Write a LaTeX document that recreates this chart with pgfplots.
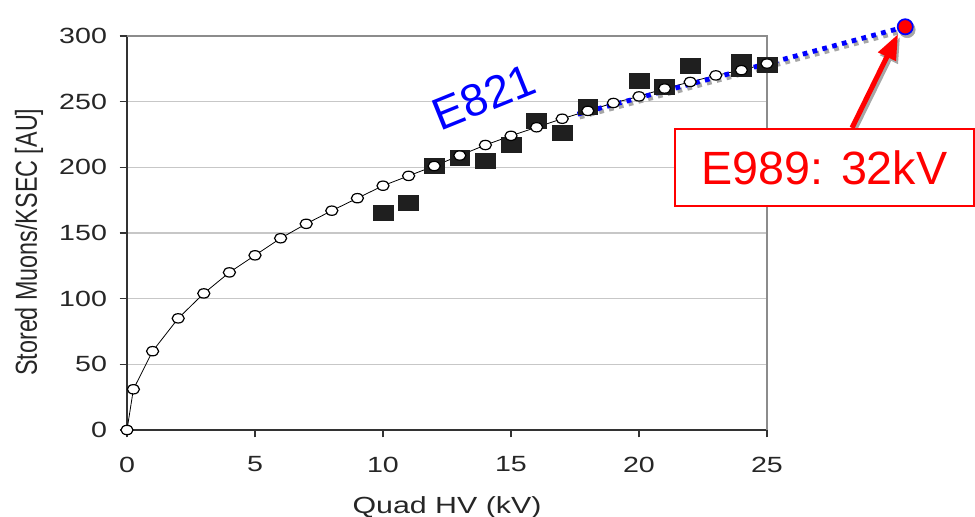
\documentclass[border=0pt]{standalone}
\usepackage{pgfplots}
\usepackage{pgfplotstable}
\pgfplotsset{compat=1.18}
\usepackage{fontspec}
\setmainfont{Liberation Sans}[FakeStretch=1.3]
\newfontfamily\plainfont{Liberation Sans}
\usetikzlibrary{arrows.meta}

\pgfplotstableread{
x y
0 0
0.25 31
1 60
2 85
3 104
4 120
5 133
6 146
7 157
8 167
9 176.5
10 186
11 193.5
12 201
13 209
14 217
15 224
16 230.5
17 237
18 243
19 249
20 254
21 260
22 265
23 270
24 274
25 279
}\curvedata

\pgfplotstableread{
x y
10 165.5
11 173
12 201
13 207
14 205
15 217
16 235.5
17 226.5
18 246
20 266
21 261
22 277
24 280.5
24 275
25 278
}\squaredata

\begin{document}
\begin{tikzpicture}
\begin{axis}[
  scale only axis, width=480pt, height=295.5pt,
  xmin=0, xmax=25, ymin=0, ymax=300,
  axis lines=left, axis line style={-, draw=black!80, line width=1.1pt},
  xtick={0,5,...,25}, ytick={0,50,...,300},
  tick align=outside, major tick length=5.5pt,
  tick style={draw=black!80, line width=1pt},
  ymajorgrids, grid style={draw=black!22, line width=0.8pt},
  ticklabel style={font=\fontsize{16.5}{16.5}\selectfont, text=black!85},
  xticklabel style={yshift=-11pt},
  yticklabel style={xshift=-6pt},
  /pgf/number format/assume math mode=true,
  clip=false,
]
\coordinate (O) at (rel axis cs:0,0);
\draw[black!45, line width=1.1pt] (rel axis cs:0,1) -- (rel axis cs:1,1) -- (rel axis cs:1,0);

\addplot[only marks, mark=square*, mark size=5.6pt,
  mark options={xscale=1.33, fill=black!88, draw=black!88}] table {\squaredata};
\addplot[black, line width=0.6pt, mark=*, mark size=3.5pt,
  mark options={xscale=1.3, fill=white, draw=black, line width=0.9pt}] table {\curvedata};

% dotted blue line with shadow
\addplot[black!35, line width=3.6pt, dash pattern=on 3.6pt off 4pt, xshift=1.5pt, yshift=-2.2pt]
  coordinates {(17.6,240.5) (30.4,307)};
\addplot[blue, line width=3.6pt, dash pattern=on 3.6pt off 4pt]
  coordinates {(17.6,240.5) (30.4,307)};
\addplot[only marks, mark=*, mark size=6pt, mark options={fill=black!35, draw=black!35}, xshift=1.5pt, yshift=-2.2pt]
  coordinates {(30.4,307)};
\addplot[only marks, mark=*, mark size=5.7pt, mark options={fill=red, draw=blue, line width=1.3pt}]
  coordinates {(30.4,307)};

% arrow with shadow
\draw[black!35, line width=3.8pt, -{Triangle[length=19pt,width=14pt]}, xshift=1.5pt, yshift=-2.2pt]
  (axis cs:28.32,230) -- (axis cs:30.12,301.5);
\draw[red, line width=3.8pt, -{Triangle[length=19pt,width=14pt]}]
  (axis cs:28.32,230) -- (axis cs:30.12,301.5);

\node[draw=red, fill=white, line width=1.3pt, minimum width=224pt, minimum height=57.75pt,
  inner sep=0pt, text=red, font=\plainfont\fontsize{35}{35}\selectfont]
  at (axis cs:27.25,199.9) {E989: 32kV};

\node[rotate=22, text=blue, font=\plainfont\fontsize{34}{34}\selectfont]
  at (axis cs:13.95,253.6) {E821};

\node[rotate=90, text=black!85, font=\plainfont\fontsize{17.5}{17.5}\selectfont]
  at (axis cs:-3.83,143) {\scalebox{1}[1.3]{Stored Muons/KSEC [AU]}};
\node[anchor=base, text=black!85, font=\fontsize{17.5}{17.5}\selectfont]
  at (axis cs:12.5,-63.2) {Quad HV (kV)};
\end{axis}
\pgfresetboundingbox
\path (O) ++(-95.25pt,-65.25pt) rectangle ++(731.25pt,387.75pt);
\end{tikzpicture}
\end{document}
